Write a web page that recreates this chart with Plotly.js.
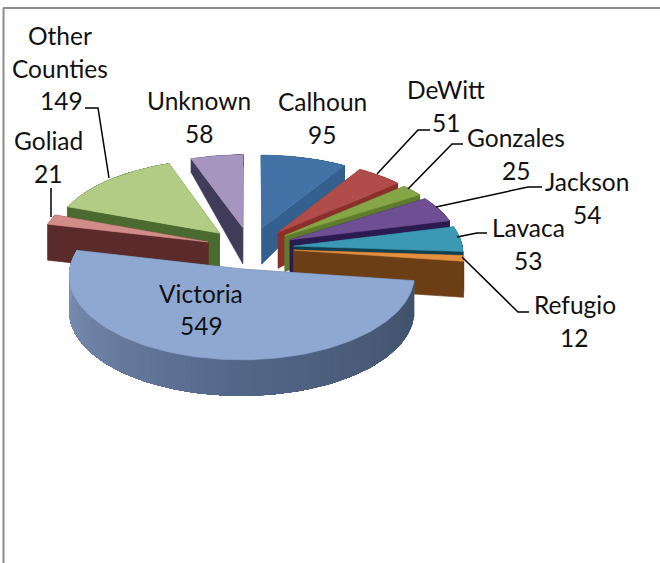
<!DOCTYPE html>
<html><head><meta charset="utf-8">
<script src="https://cdn.plot.ly/plotly-3.0.1.min.js"></script>
<style>html,body{margin:0;padding:0;background:#fff}#c{width:660px;height:563px}</style>
</head><body><div id="c"></div>
<script>
const categories = ['Calhoun','DeWitt','Gonzales','Jackson','Lavaca','Refugio','Victoria','Goliad','Other Counties','Unknown'];
const values = [95,51,25,54,53,12,549,21,149,58];
const topColors = ['#4272a6','#b04c4a','#86a547','#6e4f94','#3b99b4','#e3903f','#8ea8d1','#d38d88','#b3cc85','#a695be'];
const wallColors = ['#34608f','#8c2f2a','#5f7c2c','#2c1b50','#0f4050','#6b3e15','#5a6c8c','#5b2b2b','#4a6a30','#403b59'];
const drawOrder = [9,0,8,7,1,2,3,4,5,6];
const labelLines = [['Other',60,35],['Counties',60,68],['149',61,100],['Unknown',199,100],['58',199,133],['Calhoun',322,101],['95',322,134],['DeWitt',446,89],['51',446,122],['Gonzales',516,137],['25',516,170],['Jackson',587,181],['54',587,214],['Lavaca',528,227],['53',528,260],['Refugio',575,304],['12',574,337],['Goliad',48,140],['21',48,173],['Victoria',201,293],['549',201,325]];
const leaders = [
 [[85,98,109],[108,108,178]],
 [[51,51],[188,217]],
 [[377,418,430],[174,130,130]],
 [[408,452,463],[189,144,144]],
 [[436,528,542],[207,187,187]],
 [[457,477,487],[237,233,233]],
 [[462,518,529],[257,312,312]]
];
// projection of the pie plane on the page
const CX=250,CY=248,FX=169,FY=81,K=0.072,EXPLODE=0.26;
function proj(X,Z){const w=1/(1-K*Z);return [CX+FX*X*w,CY+FY*Z*w];}
function thick(Z){return Z>-0.3?36:Math.max(12,36-(-0.3-Z)*25);}
function pt(th,r,ex,ez,low){const X=r*Math.sin(th)+ex,Z=-r*Math.cos(th)+ez;const p=proj(X,Z);if(low)p[1]+=thick(Z);return p;}
const total=values.reduce((a,b)=>a+b,0);
let acc=0;
const slices=values.map(v=>{const a=acc/total*2*Math.PI;acc+=v;return [a,acc/total*2*Math.PI];});
const traces=[];
function poly(pts,color,lw){
 const x=pts.map(p=>p[0]),y=pts.map(p=>p[1]);x.push(x[0]);y.push(y[0]);
 traces.push({type:'scatter',mode:'lines',x,y,fill:'toself',fillcolor:color,line:{color,width:lw===undefined?0.6:lw},hoverinfo:'skip',showlegend:false});
}
function mix(a,b,t){const p=c=>[1,3,5].map(i=>parseInt(c.substr(i,2),16));const A=p(a),B=p(b);
 return 'rgb('+A.map((v,i)=>Math.round(v+(B[i]-v)*t)).join(',')+')';}
drawOrder.forEach(i=>{
 const [a,b]=slices[i],mid=(a+b)/2;
 const ex=EXPLODE*Math.sin(mid),ez=-EXPLODE*Math.cos(mid);
 const n=Math.max(3,Math.ceil((b-a)/0.03));
 const ang=[];for(let k=0;k<=n;k++)ang.push(a+(b-a)*k/n);
 [a,b].forEach(t=>poly([pt(t,0,ex,ez,false),pt(t,1,ex,ez,false),pt(t,1,ex,ez,true),pt(t,0,ex,ez,true)],wallColors[i]));
 // outer curved face: each strip runs to the far end of the arc, so later strips cover it without seams
 for(let k=0;k<n;k++){
  const s=ang[k];
  let col=wallColors[i];
  if(categories[i]==='Victoria'){
    const t=(s-a)/(b-a);
    col= t<0.45? mix('#3f5068','#54678a',t/0.45) : mix('#54678a','#8298bc',(t-0.45)/0.55);
  }
  const up=ang.slice(k).map(t=>pt(t,1,ex,ez,false));
  const lo=ang.slice(k).map(t=>pt(t,1,ex,ez,true)).reverse();
  poly(up.concat(lo),col,0);
 }
 const top=[pt(a,0,ex,ez,false)];ang.forEach(t=>top.push(pt(t,1,ex,ez,false)));
 poly(top,topColors[i]);
});
leaders.forEach(l=>traces.push({type:'scatter',mode:'lines',x:l[0],y:l[1],line:{color:'#000',width:1.5},hoverinfo:'skip',showlegend:false}));
const layout={width:660,height:563,margin:{l:0,r:0,t:0,b:0},paper_bgcolor:'#fff',plot_bgcolor:'#fff',showlegend:false,
 xaxis:{range:[0,660],visible:false,fixedrange:true},
 yaxis:{range:[563,0],visible:false,fixedrange:true},
 shapes:[
  {type:'line',xref:'x',yref:'y',x0:3.5,x1:3.5,y0:8,y1:563,line:{color:'#8c8c8c',width:2}},
  {type:'line',xref:'x',yref:'y',x0:3,x1:660,y0:8,y1:8,line:{color:'#8c8c8c',width:2}}
 ],
 annotations:labelLines.map(l=>({x:l[1],y:l[2],xref:'x',yref:'y',text:l[0],showarrow:false,xanchor:'center',yanchor:'middle',
   font:{family:'Lato, Carlito, sans-serif',size:24.5,color:'#111'}}))
};
Plotly.newPlot('c',traces,layout,{displayModeBar:false,staticPlot:true});
</script></body></html>
